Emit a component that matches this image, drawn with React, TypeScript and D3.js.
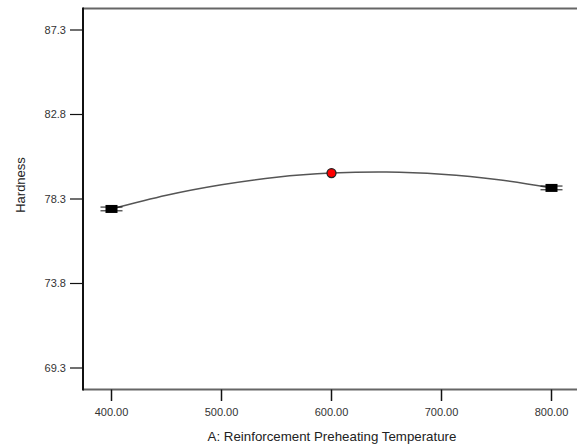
import React from "react";
import * as d3 from "d3";

const yTicks = [69.3, 73.8, 78.3, 82.8, 87.3];
const xTicks = [400, 500, 600, 700, 800];
const curveTemps = [400, 450, 500, 550, 600, 650, 700, 750, 800];
const curveHardness = [77.77, 78.5, 79.06, 79.46, 79.68, 79.74, 79.62, 79.34, 78.89];
const designTemps = [400, 800];
const designHardness = [77.77, 78.89];
const designLow = [77.67, 78.79];
const designHigh = [77.87, 78.99];
const pointTemps = [600];
const pointHardness = [79.68];

const W = 577;
const H = 445;

export default function App() {
  const x = d3.scaleLinear().domain([400, 800]).range([111.5, 551.5]);
  const y = d3.scaleLinear().domain([69.3, 87.3]).range([368, 30]);
  const left = 83;
  const top = 8.5;
  const bottom = 389.5;
  const right = 580;

  const line = d3
    .line<number>()
    .x((_, i) => x(curveTemps[i]))
    .y((d) => y(d))
    .curve(d3.curveNatural);

  const font = "'Liberation Sans', Arial, sans-serif";

  return (
    <svg
      width={W}
      height={H}
      style={{ position: "absolute", left: 0, top: 0, background: "#fff" }}
    >
      <line x1={left} x2={right} y1={top} y2={top} stroke="#666" strokeWidth={2} />
      <line x1={left} x2={right} y1={bottom} y2={bottom} stroke="#666" strokeWidth={2} />
      <line x1={left} x2={left} y1={top - 1} y2={bottom + 1} stroke="#111" strokeWidth={2} />

      {yTicks.map((t) => (
        <g key={"y" + t}>
          <line x1={70} x2={left} y1={y(t)} y2={y(t)} stroke="#111" strokeWidth={1.2} />
          <text x={66} y={y(t)} dy="0.35em" textAnchor="end" fontFamily={font} fontSize={11} fill="#333">
            {t.toFixed(1)}
          </text>
        </g>
      ))}

      {xTicks.map((t) => (
        <g key={"x" + t}>
          <line x1={x(t)} x2={x(t)} y1={bottom} y2={401} stroke="#111" strokeWidth={1.5} />
          <text x={x(t)} y={416} textAnchor="middle" fontFamily={font} fontSize={11} fill="#333">
            {t.toFixed(2)}
          </text>
        </g>
      ))}

      <text x={332} y={441} textAnchor="middle" fontFamily={font} fontSize={13.3} fill="#222">
        A: Reinforcement Preheating Temperature
      </text>
      <text
        transform={`translate(25,185) rotate(-90)`}
        textAnchor="middle"
        fontFamily={font}
        fontSize={13}
        fill="#222"
      >
        Hardness
      </text>

      <path d={line(curveHardness) || ""} fill="none" stroke="#555" strokeWidth={1.5} />

      {designTemps.map((t, i) => {
        const cx = x(t);
        const cy = y(designHardness[i]);
        return (
          <g key={"d" + t}>
            <line x1={cx - 11} x2={cx + 11} y1={y(designHigh[i])} y2={y(designHigh[i])} stroke="#111" strokeWidth={1} />
            <line x1={cx - 11} x2={cx + 11} y1={y(designLow[i])} y2={y(designLow[i])} stroke="#111" strokeWidth={1} />
            <rect x={cx - 6} y={cy - 4} width={12} height={8} fill="#000" />
          </g>
        );
      })}

      {pointTemps.map((t, i) => (
        <circle key={"p" + t} cx={x(t)} cy={y(pointHardness[i])} r={4.5} fill="#ff0000" stroke="#222" strokeWidth={1.3} />
      ))}
    </svg>
  );
}
